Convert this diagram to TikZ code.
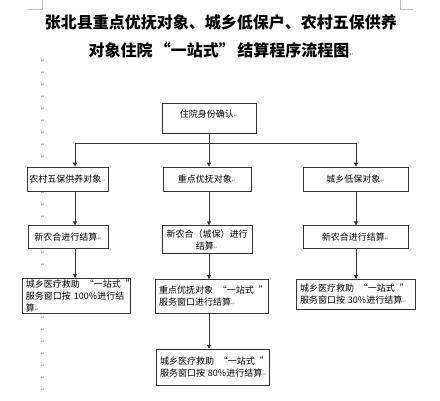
\documentclass[tikz,border=0pt]{standalone}
\usepackage{fontspec}
\setmainfont{Noto Sans CJK SC}
\newfontfamily\markfont{DejaVu Sans}
\usepackage{tikz}
\usetikzlibrary{arrows.meta,positioning}
\newcommand{\pmk}{{\markfont\color{black!45}\fontsize{5}{5}\selectfont ↵}}
% quotes padded as Word sets them
\newcommand{\qopen}[1]{\nobreak\hspace{#1}\nobreak“}
\newcommand{\qclose}[1]{\nobreak\hspace{#1}\nobreak”}

\begin{document}
\begin{tikzpicture}[
  x=1pt, y=-1pt,
  font=\fontsize{9}{12}\selectfont,
  box/.style={draw=black!80, fill=white, align=center, inner sep=2pt, line width=0.7pt},
  lbox/.style={box, align=left, inner xsep=4pt, inner ysep=1pt},
  wire/.style={line width=0.7pt, black!80},
  arr/.style={wire, -{Triangle[length=4pt,width=4pt]}},
  pmark/.style={inner sep=0pt, font=\markfont\fontsize{5}{5}\selectfont, text=black!45}
]
  \useasboundingbox (0,0) rectangle (440,400);
  % page corner marks
  \draw[black!25] (28,9) -- (42,9) -- (42,0);
  \draw[black!25] (413,9) -- (400,9) -- (400,0);
  % paragraph marks down the margin
  \foreach \y in {61,73,...,157,193,205,217,253,265,318,330,...,390}
    \node[pmark] at (43,\y) {↵};

  \node[font=\bfseries\fontsize{16}{28}\selectfont, align=center] (title) at (221,36)
    {张北县重点优抚对象、城乡低保户、农村五保供养\\对象住院\qopen{0.15em}一站式”\hspace{0.15em}结算程序流程图\pmk};

  \node[box, minimum width=94pt, minimum height=30pt, text depth=8pt] (admit) at (209,118) {住院身份确认\pmk};
  \coordinate (split) at (209,143);
  \coordinate (colL) at (75,143);
  \coordinate (colR) at (356,143);

  % first row
  \node[box, minimum width=81pt, minimum height=24pt] (rural) at (67.5,179) {农村五保供养对象\pmk};
  \node[box, minimum width=88pt, minimum height=24pt] (veteran) at (207,179) {重点优抚对象\pmk};
  \node[box, minimum width=105pt, minimum height=24pt] (lowinc) at (355.5,179) {城乡低保对象\pmk};

  % second row
  \node[box, minimum width=80pt, minimum height=23pt, below=34pt of rural, xshift=0.5pt] (ruralpay) {新农合进行结算\pmk};
  \node[box, minimum width=90pt, minimum height=28pt, below=34pt of veteran] (veteranpay) {新农合（城保）进行\\结算\pmk};
  \node[box, minimum width=105pt, minimum height=23pt, below=34pt of lowinc] (lowincpay) {新农合进行结算\pmk};

  % third row
  \node[lbox, text width=100pt, minimum height=35pt, below=29pt of ruralpay, xshift=8pt] (ruralaid)
    {城乡医疗救助\qopen{0.55em}一站式\qclose{0.55em}\\服务窗口按~100\%进行结\\算\pmk};
  \node[lbox, text width=105pt, minimum height=34pt, below=25pt of veteranpay, xshift=4.5pt] (veteranaid)
    {重点优抚对象\qopen{0.55em}一站式\qclose{0.55em}\\服务窗口进行结算\pmk};
  \node[lbox, text width=111pt, minimum height=30pt, below=30pt of lowincpay] (lowincaid)
    {城乡医疗救助\qopen{0.55em}一站式\qclose{0.55em}\\服务窗口按~30\%进行结算\pmk};

  % fourth row
  \node[lbox, text width=105pt, minimum height=36pt, below=35pt of veteranaid, xshift=1pt] (veteranaid2)
    {城乡医疗救助\qopen{0.55em}一站式\qclose{0.55em}\\服务窗口按~80\%进行结算\pmk};

  \draw[wire] (admit.south) -- (split);
  \draw[arr] (split) -| (colL |- rural.north);
  \draw[arr] (split) -- (split |- veteran.north);
  \draw[arr] (split) -| (colR |- lowinc.north);

  \draw[arr] (rural.south -| colL) -- (ruralpay.north -| colL);
  \draw[arr] (ruralpay.south -| colL) -- (ruralaid.north -| colL);
  \draw[arr] (veteran.south -| split) -- (veteranpay.north -| split);
  \draw[arr] (veteranpay.south -| split) -- (veteranaid.north -| split);
  \draw[arr] (veteranaid.south -| split) -- (veteranaid2.north -| split);
  \draw[arr] (lowinc.south -| colR) -- (lowincpay.north -| colR);
  \draw[arr] (lowincpay.south -| colR) -- (lowincaid.north -| colR);
\end{tikzpicture}
\end{document}
